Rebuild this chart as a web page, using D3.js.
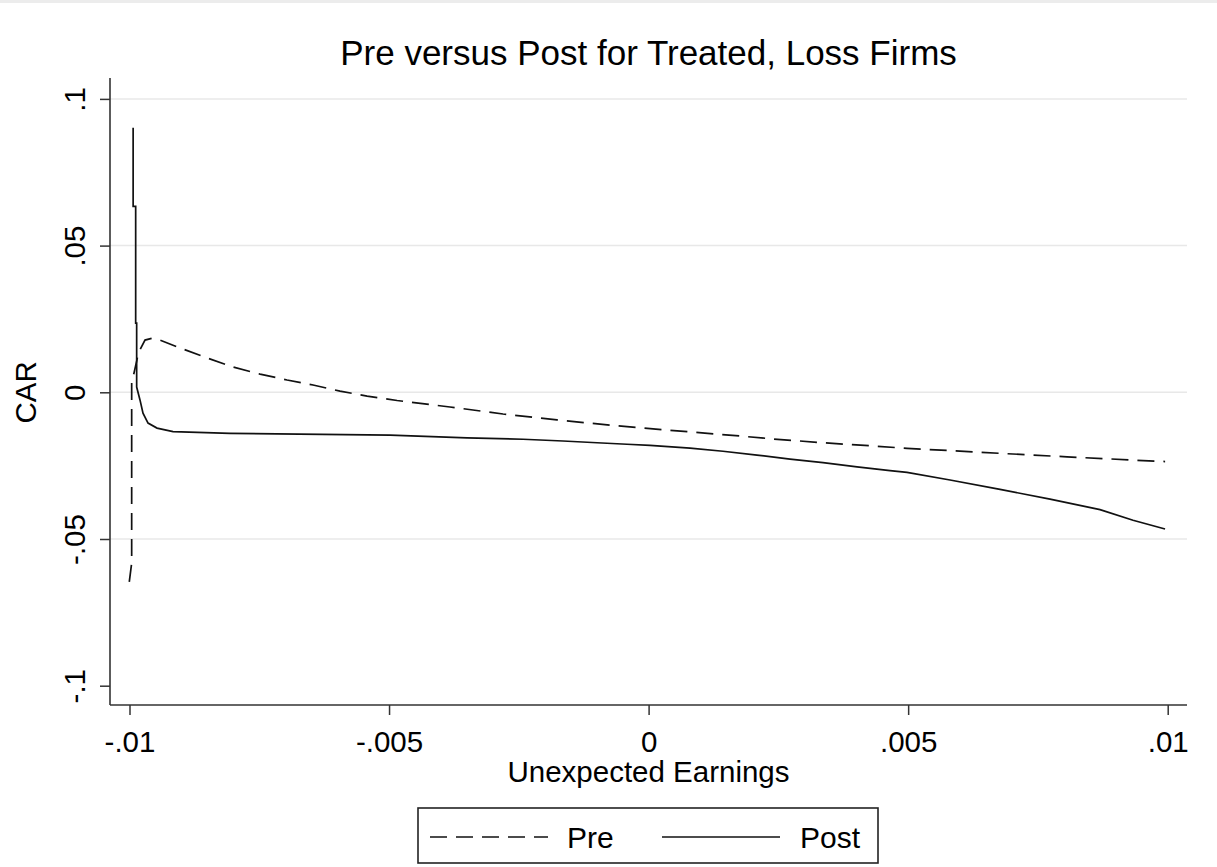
<!DOCTYPE html>
<html>
<head>
<meta charset="utf-8">
<script src="https://cdn.jsdelivr.net/npm/d3@7"></script>
<style>
  html, body { margin: 0; padding: 0; background: #ffffff; }
  svg { display: block; }
  text { font-family: "Liberation Sans", Arial, sans-serif; fill: #000; }
</style>
</head>
<body>
<script>
// ---------- data ----------
const chartTitle = "Pre versus Post for Treated, Loss Firms";
const xTitle = "Unexpected Earnings";
const yTitle = "CAR";
const xTicks = [-0.01, -0.005, 0, 0.005, 0.01];
const xTickLabels = ["-.01", "-.005", "0", ".005", ".01"];
const yTicks = [-0.1, -0.05, 0, 0.05, 0.1];
const yTickLabels = ["-.1", "-.05", "0", ".05", ".1"];
const yGrid = [-0.05, 0, 0.05, 0.1];
const seriesNames = ["Pre", "Post"];

const preX = [-0.010004, -0.009958, -0.009958, -0.009913, -0.009836, -0.009798, -0.009701, -0.009566,
  -0.009412, -0.009026, -0.008506, -0.008005, -0.007485, -0.006965, -0.006464, -0.005944, -0.005423,
  -0.004845, -0.003826, -0.002805, -0.001765, -0.000744, -0.000108, 0.000798, 0.001761, 0.002397,
  0.003360, 0.004323, 0.004978, 0.006770, 0.008060, 0.009332, 0.009950];
const preY = [-0.0646, -0.0582, 0.0032, 0.0066, 0.0127, 0.0145, 0.0178, 0.0184,
  0.0178, 0.0151, 0.0117, 0.0086, 0.0062, 0.0042, 0.0025, 0.0004, -0.0013,
  -0.0028, -0.0050, -0.0074, -0.0094, -0.0112, -0.0122, -0.0135, -0.0149, -0.0159,
  -0.0172, -0.0183, -0.0191, -0.0208, -0.0220, -0.0231, -0.0236];

const postX = [-0.009930, -0.009930, -0.009881, -0.009881, -0.009862, -0.009862, -0.009798, -0.009740,
  -0.009643, -0.009470, -0.009162, -0.008064, -0.004981, -0.003497, -0.002420, -0.001649, -0.000994,
  -0.000416, 0.000027, 0.000798, 0.001433, 0.002088, 0.002724, 0.003360, 0.004015, 0.004651,
  0.004978, 0.005807, 0.006770, 0.007733, 0.008696, 0.009332, 0.009949];
const postY = [0.0902, 0.0634, 0.0634, 0.0236, 0.0236, 0.0018, -0.0026, -0.0071,
  -0.0105, -0.0122, -0.0134, -0.0140, -0.0146, -0.0155, -0.0160, -0.0166, -0.0172,
  -0.0177, -0.0181, -0.0190, -0.0201, -0.0214, -0.0228, -0.0240, -0.0254, -0.0267,
  -0.0273, -0.0299, -0.0331, -0.0364, -0.0400, -0.0436, -0.0466];

// ---------- layout ----------
const W = 1217, H = 867;
const plotLeft = 110, plotRight = 1187, plotTop = 78, plotBottom = 705;
const fontFam = '"Liberation Sans", Arial, sans-serif';

const svg = d3.select("body").append("svg").attr("width", W).attr("height", H);
svg.append("rect").attr("width", W).attr("height", H).attr("fill", "#fff");
svg.append("rect").attr("width", W).attr("height", 3).attr("fill", "#ececec");

const x = d3.scaleLinear().domain([-0.01, 0.01]).range([129.5, 1167.7]);
const y = d3.scaleLinear().domain([-0.1, 0.1]).range([685.7, 98.9]);

// gridlines
svg.append("g").selectAll("line").data(yGrid).join("line")
  .attr("x1", plotLeft).attr("x2", plotRight)
  .attr("y1", d => y(d)).attr("y2", d => y(d))
  .attr("stroke", "#e8e8e8").attr("stroke-width", 1.5);

// x axis
const xAxis = d3.axisBottom(x).tickValues(xTicks)
  .tickFormat((d, i) => xTickLabels[i]).tickSize(10).tickSizeOuter(0);
const gx = svg.append("g").attr("transform", `translate(0,${plotBottom})`).call(xAxis);
gx.select(".domain").remove();
gx.selectAll(".tick line").attr("stroke", "#333").attr("stroke-width", 1.5);
gx.selectAll(".tick text").attr("font-size", 29.5).attr("dy", null).attr("y", 47)
  .attr("fill", "#000").style("font-family", fontFam);
svg.append("line").attr("x1", plotLeft).attr("x2", plotRight)
  .attr("y1", plotBottom).attr("y2", plotBottom).attr("stroke", "#333").attr("stroke-width", 1.6);

// y axis
const yAxis = d3.axisLeft(y).tickValues(yTicks)
  .tickFormat((d, i) => yTickLabels[i]).tickSize(10).tickSizeOuter(0);
const gy = svg.append("g").attr("transform", `translate(${plotLeft},0)`).call(yAxis);
gy.select(".domain").remove();
gy.selectAll(".tick line").attr("stroke", "#333").attr("stroke-width", 1.5);
gy.selectAll(".tick text")
  .attr("font-size", 29.5).attr("x", null).attr("dy", null)
  .attr("text-anchor", "middle")
  .attr("transform", "translate(-25,0) rotate(-90)")
  .attr("fill", "#000").style("font-family", fontFam);
svg.append("line").attr("x1", plotLeft).attr("x2", plotLeft)
  .attr("y1", plotTop).attr("y2", plotBottom).attr("stroke", "#333").attr("stroke-width", 1.6);

// titles
svg.append("text").attr("x", (plotLeft + plotRight) / 2).attr("y", 65)
  .attr("text-anchor", "middle").attr("font-size", 35).text(chartTitle);
svg.append("text").attr("x", (plotLeft + plotRight) / 2).attr("y", 782)
  .attr("text-anchor", "middle").attr("font-size", 29.5).text(xTitle);
svg.append("text").attr("transform", `translate(36,${y(0)}) rotate(-90)`)
  .attr("text-anchor", "middle").attr("font-size", 29.5).text(yTitle);

// lines
const line = d3.line().x(d => x(d[0])).y(d => y(d[1]));
const preData = preX.map((v, i) => [v, preY[i]]);
const postData = postX.map((v, i) => [v, postY[i]]);
const dashPattern = "17,9";

svg.append("path").datum(preData).attr("d", line)
  .attr("fill", "none").attr("stroke", "#111").attr("stroke-width", 1.7)
  .attr("stroke-dasharray", dashPattern);
svg.append("path").datum(postData).attr("d", line)
  .attr("fill", "none").attr("stroke", "#111").attr("stroke-width", 1.7);

// legend
const lg = svg.append("g");
lg.append("rect").attr("x", 418).attr("y", 808).attr("width", 460).attr("height", 55)
  .attr("fill", "#fff").attr("stroke", "#222").attr("stroke-width", 1.6);
lg.append("line").attr("x1", 430).attr("x2", 548).attr("y1", 837).attr("y2", 837)
  .attr("stroke", "#111").attr("stroke-width", 1.7).attr("stroke-dasharray", dashPattern);
lg.append("text").attr("x", 567).attr("y", 848).attr("font-size", 30).text(seriesNames[0]);
lg.append("line").attr("x1", 662).attr("x2", 780).attr("y1", 837).attr("y2", 837)
  .attr("stroke", "#111").attr("stroke-width", 1.7);
lg.append("text").attr("x", 800).attr("y", 848).attr("font-size", 30).text(seriesNames[1]);
</script>
</body>
</html>
